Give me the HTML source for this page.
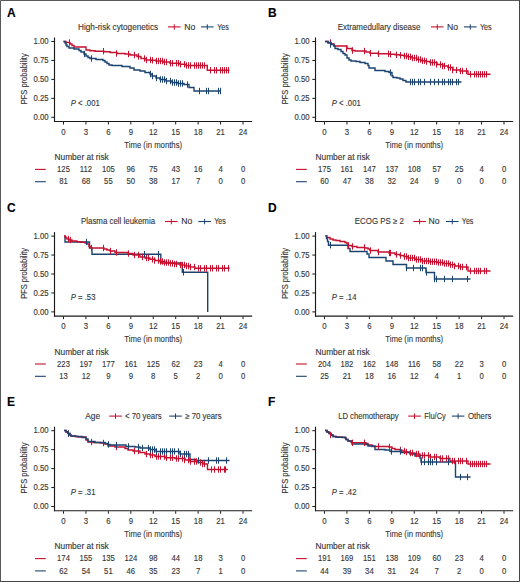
<!DOCTYPE html>
<html><head><meta charset="utf-8"><style>
html,body{margin:0;padding:0;background:#fff;}
svg{display:block;font-family:"Liberation Sans", sans-serif;}
text{stroke:#3a3a3a;stroke-width:0.12px;paint-order:stroke;}
</style></head><body>
<svg width="520" height="582" viewBox="0 0 520 582">
<rect x="0" y="0" width="520" height="582" fill="#fff"/>
<text transform="translate(7.00,17.00)" font-size="12.0" text-anchor="start" fill="#000" font-weight="bold">A</text>
<text transform="translate(78.10,29.60) scale(0.975,1)" font-size="8.4" text-anchor="start" fill="#333333">High-risk cytogenetics</text>
<line x1="168.00" y1="26.90" x2="180.60" y2="26.90" stroke="#c5112f" stroke-width="1.1"/>
<line x1="174.30" y1="24.30" x2="174.30" y2="29.70" stroke="#c5112f" stroke-width="1.0"/>
<text transform="translate(184.20,29.60) scale(1.03,1)" font-size="8.4" text-anchor="start" fill="#333333">No</text>
<line x1="201.00" y1="26.90" x2="213.60" y2="26.90" stroke="#1b4370" stroke-width="1.1"/>
<line x1="207.30" y1="24.30" x2="207.30" y2="29.70" stroke="#1b4370" stroke-width="1.0"/>
<text transform="translate(217.20,29.60) scale(0.85,1)" font-size="8.4" text-anchor="start" fill="#333333">Yes</text>
<text transform="translate(26.70,78.80) rotate(-90) scale(0.835,1)" font-size="9.0" text-anchor="middle" fill="#333333">PFS probability</text>
<text transform="translate(48.60,119.90) scale(0.95,1)" font-size="8.2" text-anchor="end" fill="#333333">0.00</text>
<line x1="51.30" y1="117.30" x2="54.50" y2="117.30" stroke="#1a1a1a" stroke-width="1.0"/>
<text transform="translate(48.60,100.95) scale(0.95,1)" font-size="8.2" text-anchor="end" fill="#333333">0.25</text>
<line x1="51.30" y1="98.35" x2="54.50" y2="98.35" stroke="#1a1a1a" stroke-width="1.0"/>
<text transform="translate(48.60,82.00) scale(0.95,1)" font-size="8.2" text-anchor="end" fill="#333333">0.50</text>
<line x1="51.30" y1="79.40" x2="54.50" y2="79.40" stroke="#1a1a1a" stroke-width="1.0"/>
<text transform="translate(48.60,63.05) scale(0.95,1)" font-size="8.2" text-anchor="end" fill="#333333">0.75</text>
<line x1="51.30" y1="60.45" x2="54.50" y2="60.45" stroke="#1a1a1a" stroke-width="1.0"/>
<text transform="translate(48.60,44.10) scale(0.95,1)" font-size="8.2" text-anchor="end" fill="#333333">1.00</text>
<line x1="51.30" y1="41.50" x2="54.50" y2="41.50" stroke="#1a1a1a" stroke-width="1.0"/>
<line x1="54.50" y1="37.50" x2="54.50" y2="122.00" stroke="#1a1a1a" stroke-width="1.15"/>
<line x1="54.00" y1="121.50" x2="252.20" y2="121.50" stroke="#1a1a1a" stroke-width="1.15"/>
<line x1="63.50" y1="122.00" x2="63.50" y2="124.50" stroke="#1a1a1a" stroke-width="1.0"/>
<text transform="translate(63.50,134.60) scale(0.93,1)" font-size="8.4" text-anchor="middle" fill="#333333">0</text>
<line x1="85.94" y1="122.00" x2="85.94" y2="124.50" stroke="#1a1a1a" stroke-width="1.0"/>
<text transform="translate(85.94,134.60) scale(0.93,1)" font-size="8.4" text-anchor="middle" fill="#333333">3</text>
<line x1="108.38" y1="122.00" x2="108.38" y2="124.50" stroke="#1a1a1a" stroke-width="1.0"/>
<text transform="translate(108.38,134.60) scale(0.93,1)" font-size="8.4" text-anchor="middle" fill="#333333">6</text>
<line x1="130.82" y1="122.00" x2="130.82" y2="124.50" stroke="#1a1a1a" stroke-width="1.0"/>
<text transform="translate(130.82,134.60) scale(0.93,1)" font-size="8.4" text-anchor="middle" fill="#333333">9</text>
<line x1="153.26" y1="122.00" x2="153.26" y2="124.50" stroke="#1a1a1a" stroke-width="1.0"/>
<text transform="translate(153.26,134.60) scale(0.93,1)" font-size="8.4" text-anchor="middle" fill="#333333">12</text>
<line x1="175.70" y1="122.00" x2="175.70" y2="124.50" stroke="#1a1a1a" stroke-width="1.0"/>
<text transform="translate(175.70,134.60) scale(0.93,1)" font-size="8.4" text-anchor="middle" fill="#333333">15</text>
<line x1="198.14" y1="122.00" x2="198.14" y2="124.50" stroke="#1a1a1a" stroke-width="1.0"/>
<text transform="translate(198.14,134.60) scale(0.93,1)" font-size="8.4" text-anchor="middle" fill="#333333">18</text>
<line x1="220.58" y1="122.00" x2="220.58" y2="124.50" stroke="#1a1a1a" stroke-width="1.0"/>
<text transform="translate(220.58,134.60) scale(0.93,1)" font-size="8.4" text-anchor="middle" fill="#333333">21</text>
<line x1="243.02" y1="122.00" x2="243.02" y2="124.50" stroke="#1a1a1a" stroke-width="1.0"/>
<text transform="translate(243.02,134.60) scale(0.93,1)" font-size="8.4" text-anchor="middle" fill="#333333">24</text>
<text transform="translate(153.20,147.80) scale(0.785,1)" font-size="9.9" text-anchor="middle" fill="#333333">Time (in months)</text>
<text transform="translate(70.80,105.70) scale(0.93,1)" font-size="8.3" fill="#333333"><tspan font-style="italic">P</tspan> &lt; .001</text>
<text transform="translate(54.50,160.00) scale(1.02,1)" font-size="8.2" text-anchor="start" fill="#333333">Number at risk</text>
<line x1="35.00" y1="169.40" x2="45.80" y2="169.40" stroke="#c5112f" stroke-width="1.1"/>
<line x1="35.00" y1="181.70" x2="45.80" y2="181.70" stroke="#1b4370" stroke-width="1.1"/>
<text transform="translate(63.50,172.10) scale(0.92,1)" font-size="8.4" text-anchor="middle" fill="#333333">125</text>
<text transform="translate(85.94,172.10) scale(0.92,1)" font-size="8.4" text-anchor="middle" fill="#333333">112</text>
<text transform="translate(108.38,172.10) scale(0.92,1)" font-size="8.4" text-anchor="middle" fill="#333333">105</text>
<text transform="translate(130.82,172.10) scale(0.92,1)" font-size="8.4" text-anchor="middle" fill="#333333">96</text>
<text transform="translate(153.26,172.10) scale(0.92,1)" font-size="8.4" text-anchor="middle" fill="#333333">75</text>
<text transform="translate(175.70,172.10) scale(0.92,1)" font-size="8.4" text-anchor="middle" fill="#333333">43</text>
<text transform="translate(198.14,172.10) scale(0.92,1)" font-size="8.4" text-anchor="middle" fill="#333333">16</text>
<text transform="translate(220.58,172.10) scale(0.92,1)" font-size="8.4" text-anchor="middle" fill="#333333">4</text>
<text transform="translate(243.02,172.10) scale(0.92,1)" font-size="8.4" text-anchor="middle" fill="#333333">0</text>
<text transform="translate(63.50,184.40) scale(0.92,1)" font-size="8.4" text-anchor="middle" fill="#333333">81</text>
<text transform="translate(85.94,184.40) scale(0.92,1)" font-size="8.4" text-anchor="middle" fill="#333333">68</text>
<text transform="translate(108.38,184.40) scale(0.92,1)" font-size="8.4" text-anchor="middle" fill="#333333">55</text>
<text transform="translate(130.82,184.40) scale(0.92,1)" font-size="8.4" text-anchor="middle" fill="#333333">50</text>
<text transform="translate(153.26,184.40) scale(0.92,1)" font-size="8.4" text-anchor="middle" fill="#333333">38</text>
<text transform="translate(175.70,184.40) scale(0.92,1)" font-size="8.4" text-anchor="middle" fill="#333333">17</text>
<text transform="translate(198.14,184.40) scale(0.92,1)" font-size="8.4" text-anchor="middle" fill="#333333">7</text>
<text transform="translate(220.58,184.40) scale(0.92,1)" font-size="8.4" text-anchor="middle" fill="#333333">0</text>
<text transform="translate(243.02,184.40) scale(0.92,1)" font-size="8.4" text-anchor="middle" fill="#333333">0</text>
<path d="M63.50,41.50H66.00V42.50H70.00V44.00H72.00V45.50H74.00V47.00H86.00V50.00H90.00V50.70H95.00V51.20H104.00V51.70H110.00V52.50H117.00V53.50H125.00V54.00H130.00V55.00H137.00V56.50H141.00V58.50H146.00V60.00H151.00V60.30H156.00V61.00H163.00V62.00H170.00V63.20H180.00V64.30H186.00V65.50H207.30V70.30H229.50" fill="none" stroke="#c5112f" stroke-width="1.4" stroke-linejoin="miter"/>
<path d="M63.50,41.50H65.00V43.00H66.00V45.00H67.00V46.50H69.00V48.00H74.00V49.00H79.00V50.50H81.00V52.00H84.00V54.00H86.00V56.00H88.00V57.50H90.00V58.50H96.00V59.50H103.00V60.50H105.00V62.00H107.00V63.50H109.00V65.00H112.00V65.50H122.00V66.50H130.00V68.00H134.00V70.00H140.00V71.00H145.00V72.50H150.00V74.00H152.00V76.00H156.00V78.00H160.00V79.50H166.00V81.00H172.00V82.50H178.00V83.50H184.00V84.50H189.00V87.50H194.00V91.00H221.00" fill="none" stroke="#1b4370" stroke-width="1.4" stroke-linejoin="miter"/>
<path d="M69.50,39.30V45.70M103.50,48.00V54.40M116.50,50.30V56.70M128.50,50.80V57.20M134.50,51.80V58.20M138.50,53.30V59.70M144.50,55.30V61.70M146.50,56.80V63.20M150.50,56.80V63.20M152.50,57.10V63.50M156.50,57.80V64.20M158.50,57.80V64.20M160.50,57.80V64.20M162.50,57.80V64.20M164.50,58.80V65.20M166.50,58.80V65.20M170.50,60.00V66.40M172.50,60.00V66.40M176.50,60.00V66.40M178.50,60.00V66.40M180.50,61.10V67.50M184.50,61.10V67.50M186.50,62.30V68.70M188.50,62.30V68.70M190.50,62.30V68.70M194.50,62.30V68.70M196.50,62.30V68.70M198.50,62.30V68.70M200.50,62.30V68.70M202.50,62.30V68.70M204.50,62.30V68.70M210.50,67.10V73.50M214.50,67.10V73.50M216.50,67.10V73.50M220.50,67.10V73.50M222.50,67.10V73.50M224.50,67.10V73.50M226.50,67.10V73.50M228.50,67.10V73.50" fill="none" stroke="#c5112f" stroke-width="1.0"/>
<path d="M84.50,50.80V57.20M91.50,55.30V61.70M150.50,70.80V77.20M152.50,72.80V79.20M156.50,74.80V81.20M160.50,76.30V82.70M162.50,76.30V82.70M164.50,76.30V82.70M166.50,77.80V84.20M170.50,77.80V84.20M172.50,79.30V85.70M174.50,79.30V85.70M176.50,79.30V85.70M178.50,80.30V86.70M180.50,80.30V86.70M182.50,80.30V86.70M187.50,81.30V87.70M199.50,87.80V94.20M206.50,87.80V94.20M208.50,87.80V94.20M218.50,87.80V94.20M220.50,87.80V94.20" fill="none" stroke="#1b4370" stroke-width="1.0"/>
<text transform="translate(268.00,17.00)" font-size="12.0" text-anchor="start" fill="#000" font-weight="bold">B</text>
<text transform="translate(337.80,29.60) scale(0.947,1)" font-size="8.4" text-anchor="start" fill="#333333">Extramedullary disease</text>
<line x1="431.00" y1="26.90" x2="443.60" y2="26.90" stroke="#c5112f" stroke-width="1.1"/>
<line x1="437.30" y1="24.30" x2="437.30" y2="29.70" stroke="#c5112f" stroke-width="1.0"/>
<text transform="translate(447.00,29.60) scale(1.03,1)" font-size="8.4" text-anchor="start" fill="#333333">No</text>
<line x1="464.00" y1="26.90" x2="476.60" y2="26.90" stroke="#1b4370" stroke-width="1.1"/>
<line x1="470.30" y1="24.30" x2="470.30" y2="29.70" stroke="#1b4370" stroke-width="1.0"/>
<text transform="translate(480.00,29.60) scale(0.85,1)" font-size="8.4" text-anchor="start" fill="#333333">Yes</text>
<text transform="translate(287.70,78.80) rotate(-90) scale(0.835,1)" font-size="9.0" text-anchor="middle" fill="#333333">PFS probability</text>
<text transform="translate(309.60,119.90) scale(0.95,1)" font-size="8.2" text-anchor="end" fill="#333333">0.00</text>
<line x1="312.30" y1="117.30" x2="315.50" y2="117.30" stroke="#1a1a1a" stroke-width="1.0"/>
<text transform="translate(309.60,100.95) scale(0.95,1)" font-size="8.2" text-anchor="end" fill="#333333">0.25</text>
<line x1="312.30" y1="98.35" x2="315.50" y2="98.35" stroke="#1a1a1a" stroke-width="1.0"/>
<text transform="translate(309.60,82.00) scale(0.95,1)" font-size="8.2" text-anchor="end" fill="#333333">0.50</text>
<line x1="312.30" y1="79.40" x2="315.50" y2="79.40" stroke="#1a1a1a" stroke-width="1.0"/>
<text transform="translate(309.60,63.05) scale(0.95,1)" font-size="8.2" text-anchor="end" fill="#333333">0.75</text>
<line x1="312.30" y1="60.45" x2="315.50" y2="60.45" stroke="#1a1a1a" stroke-width="1.0"/>
<text transform="translate(309.60,44.10) scale(0.95,1)" font-size="8.2" text-anchor="end" fill="#333333">1.00</text>
<line x1="312.30" y1="41.50" x2="315.50" y2="41.50" stroke="#1a1a1a" stroke-width="1.0"/>
<line x1="315.50" y1="37.50" x2="315.50" y2="122.00" stroke="#1a1a1a" stroke-width="1.15"/>
<line x1="315.00" y1="121.50" x2="513.20" y2="121.50" stroke="#1a1a1a" stroke-width="1.15"/>
<line x1="324.50" y1="122.00" x2="324.50" y2="124.50" stroke="#1a1a1a" stroke-width="1.0"/>
<text transform="translate(324.50,134.60) scale(0.93,1)" font-size="8.4" text-anchor="middle" fill="#333333">0</text>
<line x1="346.94" y1="122.00" x2="346.94" y2="124.50" stroke="#1a1a1a" stroke-width="1.0"/>
<text transform="translate(346.94,134.60) scale(0.93,1)" font-size="8.4" text-anchor="middle" fill="#333333">3</text>
<line x1="369.38" y1="122.00" x2="369.38" y2="124.50" stroke="#1a1a1a" stroke-width="1.0"/>
<text transform="translate(369.38,134.60) scale(0.93,1)" font-size="8.4" text-anchor="middle" fill="#333333">6</text>
<line x1="391.82" y1="122.00" x2="391.82" y2="124.50" stroke="#1a1a1a" stroke-width="1.0"/>
<text transform="translate(391.82,134.60) scale(0.93,1)" font-size="8.4" text-anchor="middle" fill="#333333">9</text>
<line x1="414.26" y1="122.00" x2="414.26" y2="124.50" stroke="#1a1a1a" stroke-width="1.0"/>
<text transform="translate(414.26,134.60) scale(0.93,1)" font-size="8.4" text-anchor="middle" fill="#333333">12</text>
<line x1="436.70" y1="122.00" x2="436.70" y2="124.50" stroke="#1a1a1a" stroke-width="1.0"/>
<text transform="translate(436.70,134.60) scale(0.93,1)" font-size="8.4" text-anchor="middle" fill="#333333">15</text>
<line x1="459.14" y1="122.00" x2="459.14" y2="124.50" stroke="#1a1a1a" stroke-width="1.0"/>
<text transform="translate(459.14,134.60) scale(0.93,1)" font-size="8.4" text-anchor="middle" fill="#333333">18</text>
<line x1="481.58" y1="122.00" x2="481.58" y2="124.50" stroke="#1a1a1a" stroke-width="1.0"/>
<text transform="translate(481.58,134.60) scale(0.93,1)" font-size="8.4" text-anchor="middle" fill="#333333">21</text>
<line x1="504.02" y1="122.00" x2="504.02" y2="124.50" stroke="#1a1a1a" stroke-width="1.0"/>
<text transform="translate(504.02,134.60) scale(0.93,1)" font-size="8.4" text-anchor="middle" fill="#333333">24</text>
<text transform="translate(414.20,147.80) scale(0.785,1)" font-size="9.9" text-anchor="middle" fill="#333333">Time (in months)</text>
<text transform="translate(331.80,105.70) scale(0.93,1)" font-size="8.3" fill="#333333"><tspan font-style="italic">P</tspan> &lt; .001</text>
<text transform="translate(315.50,160.00) scale(1.02,1)" font-size="8.2" text-anchor="start" fill="#333333">Number at risk</text>
<line x1="296.00" y1="169.40" x2="306.80" y2="169.40" stroke="#c5112f" stroke-width="1.1"/>
<line x1="296.00" y1="181.70" x2="306.80" y2="181.70" stroke="#1b4370" stroke-width="1.1"/>
<text transform="translate(324.50,172.10) scale(0.92,1)" font-size="8.4" text-anchor="middle" fill="#333333">175</text>
<text transform="translate(346.94,172.10) scale(0.92,1)" font-size="8.4" text-anchor="middle" fill="#333333">161</text>
<text transform="translate(369.38,172.10) scale(0.92,1)" font-size="8.4" text-anchor="middle" fill="#333333">147</text>
<text transform="translate(391.82,172.10) scale(0.92,1)" font-size="8.4" text-anchor="middle" fill="#333333">137</text>
<text transform="translate(414.26,172.10) scale(0.92,1)" font-size="8.4" text-anchor="middle" fill="#333333">108</text>
<text transform="translate(436.70,172.10) scale(0.92,1)" font-size="8.4" text-anchor="middle" fill="#333333">57</text>
<text transform="translate(459.14,172.10) scale(0.92,1)" font-size="8.4" text-anchor="middle" fill="#333333">25</text>
<text transform="translate(481.58,172.10) scale(0.92,1)" font-size="8.4" text-anchor="middle" fill="#333333">4</text>
<text transform="translate(504.02,172.10) scale(0.92,1)" font-size="8.4" text-anchor="middle" fill="#333333">0</text>
<text transform="translate(324.50,184.40) scale(0.92,1)" font-size="8.4" text-anchor="middle" fill="#333333">60</text>
<text transform="translate(346.94,184.40) scale(0.92,1)" font-size="8.4" text-anchor="middle" fill="#333333">47</text>
<text transform="translate(369.38,184.40) scale(0.92,1)" font-size="8.4" text-anchor="middle" fill="#333333">38</text>
<text transform="translate(391.82,184.40) scale(0.92,1)" font-size="8.4" text-anchor="middle" fill="#333333">32</text>
<text transform="translate(414.26,184.40) scale(0.92,1)" font-size="8.4" text-anchor="middle" fill="#333333">24</text>
<text transform="translate(436.70,184.40) scale(0.92,1)" font-size="8.4" text-anchor="middle" fill="#333333">9</text>
<text transform="translate(459.14,184.40) scale(0.92,1)" font-size="8.4" text-anchor="middle" fill="#333333">0</text>
<text transform="translate(481.58,184.40) scale(0.92,1)" font-size="8.4" text-anchor="middle" fill="#333333">0</text>
<text transform="translate(504.02,184.40) scale(0.92,1)" font-size="8.4" text-anchor="middle" fill="#333333">0</text>
<path d="M325.00,41.50H328.00V42.50H331.00V44.00H334.00V46.00H347.00V48.50H352.00V50.50H355.00V51.00H366.00V52.00H370.00V53.20H378.00V53.80H390.00V54.30H395.00V54.80H400.00V55.30H404.00V56.00H408.00V56.80H412.00V58.00H417.00V59.50H421.00V60.70H426.00V61.50H430.00V62.50H437.00V64.50H443.00V66.00H448.00V67.50H453.00V70.00H460.00V71.00H468.00V74.30H490.50" fill="none" stroke="#c5112f" stroke-width="1.4" stroke-linejoin="miter"/>
<path d="M325.00,41.50H328.00V43.00H331.00V44.50H334.00V46.00H335.00V48.50H338.00V49.50H341.00V51.50H343.00V53.50H345.00V55.00H347.00V58.00H349.00V60.00H351.00V61.00H356.00V61.50H360.00V62.50H365.00V63.50H368.00V65.50H369.00V68.00H375.00V70.50H385.00V71.50H389.00V72.50H392.00V76.00H393.00V77.50H397.00V78.00H400.00V79.00H403.00V80.50H406.00V82.00H461.50" fill="none" stroke="#1b4370" stroke-width="1.4" stroke-linejoin="miter"/>
<path d="M330.50,39.30V45.70M346.50,45.30V51.70M352.50,47.30V53.70M364.50,47.80V54.20M370.50,50.00V56.40M378.50,50.60V57.00M388.50,50.60V57.00M390.50,51.10V57.50M396.50,51.60V58.00M400.50,52.10V58.50M404.50,52.80V59.20M406.50,52.80V59.20M408.50,53.60V60.00M410.50,53.60V60.00M412.50,54.80V61.20M414.50,54.80V61.20M416.50,54.80V61.20M418.50,56.30V62.70M420.50,56.30V62.70M422.50,57.50V63.90M424.50,57.50V63.90M426.50,58.30V64.70M430.50,59.30V65.70M432.50,59.30V65.70M434.50,59.30V65.70M436.50,61.30V67.70M440.50,61.30V67.70M442.50,62.80V69.20M444.50,62.80V69.20M448.50,64.30V70.70M450.50,64.30V70.70M452.50,66.80V73.20M456.50,66.80V73.20M460.50,67.80V74.20M462.50,67.80V74.20M466.50,67.80V74.20M470.50,71.10V77.50M474.50,71.10V77.50M476.50,71.10V77.50M478.50,71.10V77.50M480.50,71.10V77.50M482.50,71.10V77.50M484.50,71.10V77.50M486.50,71.10V77.50" fill="none" stroke="#c5112f" stroke-width="1.0"/>
<path d="M330.50,41.30V47.70M390.50,69.30V75.70M410.50,78.80V85.20M412.50,78.80V85.20M414.50,78.80V85.20M418.50,78.80V85.20M420.50,78.80V85.20M424.50,78.80V85.20M430.50,78.80V85.20M434.50,78.80V85.20M438.50,78.80V85.20M442.50,78.80V85.20M444.50,78.80V85.20M448.50,78.80V85.20M450.50,78.80V85.20M452.50,78.80V85.20M456.50,78.80V85.20M458.50,78.80V85.20" fill="none" stroke="#1b4370" stroke-width="1.0"/>
<text transform="translate(7.00,211.60)" font-size="12.0" text-anchor="start" fill="#000" font-weight="bold">C</text>
<text transform="translate(81.00,224.20) scale(0.94,1)" font-size="8.4" text-anchor="start" fill="#333333">Plasma cell leukemia</text>
<line x1="165.00" y1="221.50" x2="177.60" y2="221.50" stroke="#c5112f" stroke-width="1.1"/>
<line x1="171.30" y1="218.90" x2="171.30" y2="224.30" stroke="#c5112f" stroke-width="1.0"/>
<text transform="translate(181.20,224.20) scale(1.03,1)" font-size="8.4" text-anchor="start" fill="#333333">No</text>
<line x1="198.30" y1="221.50" x2="210.90" y2="221.50" stroke="#1b4370" stroke-width="1.1"/>
<line x1="204.60" y1="218.90" x2="204.60" y2="224.30" stroke="#1b4370" stroke-width="1.0"/>
<text transform="translate(214.20,224.20) scale(0.85,1)" font-size="8.4" text-anchor="start" fill="#333333">Yes</text>
<text transform="translate(26.70,273.40) rotate(-90) scale(0.835,1)" font-size="9.0" text-anchor="middle" fill="#333333">PFS probability</text>
<text transform="translate(48.60,314.50) scale(0.95,1)" font-size="8.2" text-anchor="end" fill="#333333">0.00</text>
<line x1="51.30" y1="311.90" x2="54.50" y2="311.90" stroke="#1a1a1a" stroke-width="1.0"/>
<text transform="translate(48.60,295.55) scale(0.95,1)" font-size="8.2" text-anchor="end" fill="#333333">0.25</text>
<line x1="51.30" y1="292.95" x2="54.50" y2="292.95" stroke="#1a1a1a" stroke-width="1.0"/>
<text transform="translate(48.60,276.60) scale(0.95,1)" font-size="8.2" text-anchor="end" fill="#333333">0.50</text>
<line x1="51.30" y1="274.00" x2="54.50" y2="274.00" stroke="#1a1a1a" stroke-width="1.0"/>
<text transform="translate(48.60,257.65) scale(0.95,1)" font-size="8.2" text-anchor="end" fill="#333333">0.75</text>
<line x1="51.30" y1="255.05" x2="54.50" y2="255.05" stroke="#1a1a1a" stroke-width="1.0"/>
<text transform="translate(48.60,238.70) scale(0.95,1)" font-size="8.2" text-anchor="end" fill="#333333">1.00</text>
<line x1="51.30" y1="236.10" x2="54.50" y2="236.10" stroke="#1a1a1a" stroke-width="1.0"/>
<line x1="54.50" y1="232.10" x2="54.50" y2="316.60" stroke="#1a1a1a" stroke-width="1.15"/>
<line x1="54.00" y1="316.10" x2="252.20" y2="316.10" stroke="#1a1a1a" stroke-width="1.15"/>
<line x1="63.50" y1="316.60" x2="63.50" y2="319.10" stroke="#1a1a1a" stroke-width="1.0"/>
<text transform="translate(63.50,329.20) scale(0.93,1)" font-size="8.4" text-anchor="middle" fill="#333333">0</text>
<line x1="85.94" y1="316.60" x2="85.94" y2="319.10" stroke="#1a1a1a" stroke-width="1.0"/>
<text transform="translate(85.94,329.20) scale(0.93,1)" font-size="8.4" text-anchor="middle" fill="#333333">3</text>
<line x1="108.38" y1="316.60" x2="108.38" y2="319.10" stroke="#1a1a1a" stroke-width="1.0"/>
<text transform="translate(108.38,329.20) scale(0.93,1)" font-size="8.4" text-anchor="middle" fill="#333333">6</text>
<line x1="130.82" y1="316.60" x2="130.82" y2="319.10" stroke="#1a1a1a" stroke-width="1.0"/>
<text transform="translate(130.82,329.20) scale(0.93,1)" font-size="8.4" text-anchor="middle" fill="#333333">9</text>
<line x1="153.26" y1="316.60" x2="153.26" y2="319.10" stroke="#1a1a1a" stroke-width="1.0"/>
<text transform="translate(153.26,329.20) scale(0.93,1)" font-size="8.4" text-anchor="middle" fill="#333333">12</text>
<line x1="175.70" y1="316.60" x2="175.70" y2="319.10" stroke="#1a1a1a" stroke-width="1.0"/>
<text transform="translate(175.70,329.20) scale(0.93,1)" font-size="8.4" text-anchor="middle" fill="#333333">15</text>
<line x1="198.14" y1="316.60" x2="198.14" y2="319.10" stroke="#1a1a1a" stroke-width="1.0"/>
<text transform="translate(198.14,329.20) scale(0.93,1)" font-size="8.4" text-anchor="middle" fill="#333333">18</text>
<line x1="220.58" y1="316.60" x2="220.58" y2="319.10" stroke="#1a1a1a" stroke-width="1.0"/>
<text transform="translate(220.58,329.20) scale(0.93,1)" font-size="8.4" text-anchor="middle" fill="#333333">21</text>
<line x1="243.02" y1="316.60" x2="243.02" y2="319.10" stroke="#1a1a1a" stroke-width="1.0"/>
<text transform="translate(243.02,329.20) scale(0.93,1)" font-size="8.4" text-anchor="middle" fill="#333333">24</text>
<text transform="translate(153.20,342.40) scale(0.785,1)" font-size="9.9" text-anchor="middle" fill="#333333">Time (in months)</text>
<text transform="translate(70.80,300.30) scale(0.93,1)" font-size="8.3" fill="#333333"><tspan font-style="italic">P</tspan> = .53</text>
<text transform="translate(54.50,354.60) scale(1.02,1)" font-size="8.2" text-anchor="start" fill="#333333">Number at risk</text>
<line x1="35.00" y1="364.00" x2="45.80" y2="364.00" stroke="#c5112f" stroke-width="1.1"/>
<line x1="35.00" y1="376.30" x2="45.80" y2="376.30" stroke="#1b4370" stroke-width="1.1"/>
<text transform="translate(63.50,366.70) scale(0.92,1)" font-size="8.4" text-anchor="middle" fill="#333333">223</text>
<text transform="translate(85.94,366.70) scale(0.92,1)" font-size="8.4" text-anchor="middle" fill="#333333">197</text>
<text transform="translate(108.38,366.70) scale(0.92,1)" font-size="8.4" text-anchor="middle" fill="#333333">177</text>
<text transform="translate(130.82,366.70) scale(0.92,1)" font-size="8.4" text-anchor="middle" fill="#333333">161</text>
<text transform="translate(153.26,366.70) scale(0.92,1)" font-size="8.4" text-anchor="middle" fill="#333333">125</text>
<text transform="translate(175.70,366.70) scale(0.92,1)" font-size="8.4" text-anchor="middle" fill="#333333">62</text>
<text transform="translate(198.14,366.70) scale(0.92,1)" font-size="8.4" text-anchor="middle" fill="#333333">23</text>
<text transform="translate(220.58,366.70) scale(0.92,1)" font-size="8.4" text-anchor="middle" fill="#333333">4</text>
<text transform="translate(243.02,366.70) scale(0.92,1)" font-size="8.4" text-anchor="middle" fill="#333333">0</text>
<text transform="translate(63.50,379.00) scale(0.92,1)" font-size="8.4" text-anchor="middle" fill="#333333">13</text>
<text transform="translate(85.94,379.00) scale(0.92,1)" font-size="8.4" text-anchor="middle" fill="#333333">12</text>
<text transform="translate(108.38,379.00) scale(0.92,1)" font-size="8.4" text-anchor="middle" fill="#333333">9</text>
<text transform="translate(130.82,379.00) scale(0.92,1)" font-size="8.4" text-anchor="middle" fill="#333333">9</text>
<text transform="translate(153.26,379.00) scale(0.92,1)" font-size="8.4" text-anchor="middle" fill="#333333">8</text>
<text transform="translate(175.70,379.00) scale(0.92,1)" font-size="8.4" text-anchor="middle" fill="#333333">5</text>
<text transform="translate(198.14,379.00) scale(0.92,1)" font-size="8.4" text-anchor="middle" fill="#333333">2</text>
<text transform="translate(220.58,379.00) scale(0.92,1)" font-size="8.4" text-anchor="middle" fill="#333333">0</text>
<text transform="translate(243.02,379.00) scale(0.92,1)" font-size="8.4" text-anchor="middle" fill="#333333">0</text>
<path d="M64.50,236.00H65.00V242.00H89.50V248.00H92.00V254.20H160.80V263.00H182.30V272.30H207.70V312.00H207.70" fill="none" stroke="#1b4370" stroke-width="1.4" stroke-linejoin="miter"/>
<path d="M64.00,236.00H65.00V237.00H66.00V238.00H67.00V239.00H69.00V240.00H72.00V241.00H77.00V241.70H81.00V242.30H85.00V243.00H87.00V244.00H89.00V246.50H91.00V248.00H104.00V249.00H107.00V250.00H110.00V251.00H115.00V252.50H128.00V253.50H133.00V255.00H140.00V257.00H145.00V258.00H150.00V259.30H155.00V260.50H160.00V261.50H165.00V262.50H170.00V263.30H175.00V264.00H180.00V265.00H185.00V266.00H190.00V267.00H195.00V268.30H229.70" fill="none" stroke="#c5112f" stroke-width="1.4" stroke-linejoin="miter"/>
<path d="M68.50,235.80V242.20M70.50,236.80V243.20M91.50,244.80V251.20M103.50,244.80V251.20M110.50,247.80V254.20M116.50,249.30V255.70M128.50,250.30V256.70M134.50,251.80V258.20M138.50,251.80V258.20M142.50,253.80V260.20M146.50,254.80V261.20M148.50,254.80V261.20M152.50,256.10V262.50M154.50,257.30V263.70M158.50,257.30V263.70M160.50,258.30V264.70M162.50,258.30V264.70M164.50,259.30V265.70M166.50,259.30V265.70M168.50,259.30V265.70M170.50,260.10V266.50M172.50,260.10V266.50M174.50,260.80V267.20M176.50,260.80V267.20M180.50,261.80V268.20M182.50,261.80V268.20M184.50,261.80V268.20M186.50,262.80V269.20M188.50,262.80V269.20M190.50,263.80V270.20M194.50,263.80V270.20M198.50,265.10V271.50M200.50,265.10V271.50M204.50,265.10V271.50M206.50,265.10V271.50M210.50,265.10V271.50M212.50,265.10V271.50M216.50,265.10V271.50M218.50,265.10V271.50M222.50,265.10V271.50M224.50,265.10V271.50M228.50,265.10V271.50" fill="none" stroke="#c5112f" stroke-width="1.0"/>
<path d="M86.50,238.80V245.20M144.50,251.00V257.40M158.50,251.00V257.40M183.50,269.10V275.50" fill="none" stroke="#1b4370" stroke-width="1.0"/>
<text transform="translate(268.00,211.60)" font-size="12.0" text-anchor="start" fill="#000" font-weight="bold">D</text>
<text transform="translate(354.80,224.20) scale(0.94,1)" font-size="8.4" text-anchor="start" fill="#333333">ECOG PS ≥ 2</text>
<line x1="413.30" y1="221.50" x2="425.90" y2="221.50" stroke="#c5112f" stroke-width="1.1"/>
<line x1="419.60" y1="218.90" x2="419.60" y2="224.30" stroke="#c5112f" stroke-width="1.0"/>
<text transform="translate(428.50,224.20) scale(1.03,1)" font-size="8.4" text-anchor="start" fill="#333333">No</text>
<line x1="446.00" y1="221.50" x2="458.60" y2="221.50" stroke="#1b4370" stroke-width="1.1"/>
<line x1="452.30" y1="218.90" x2="452.30" y2="224.30" stroke="#1b4370" stroke-width="1.0"/>
<text transform="translate(461.80,224.20) scale(0.85,1)" font-size="8.4" text-anchor="start" fill="#333333">Yes</text>
<text transform="translate(287.70,273.40) rotate(-90) scale(0.835,1)" font-size="9.0" text-anchor="middle" fill="#333333">PFS probability</text>
<text transform="translate(309.60,314.50) scale(0.95,1)" font-size="8.2" text-anchor="end" fill="#333333">0.00</text>
<line x1="312.30" y1="311.90" x2="315.50" y2="311.90" stroke="#1a1a1a" stroke-width="1.0"/>
<text transform="translate(309.60,295.55) scale(0.95,1)" font-size="8.2" text-anchor="end" fill="#333333">0.25</text>
<line x1="312.30" y1="292.95" x2="315.50" y2="292.95" stroke="#1a1a1a" stroke-width="1.0"/>
<text transform="translate(309.60,276.60) scale(0.95,1)" font-size="8.2" text-anchor="end" fill="#333333">0.50</text>
<line x1="312.30" y1="274.00" x2="315.50" y2="274.00" stroke="#1a1a1a" stroke-width="1.0"/>
<text transform="translate(309.60,257.65) scale(0.95,1)" font-size="8.2" text-anchor="end" fill="#333333">0.75</text>
<line x1="312.30" y1="255.05" x2="315.50" y2="255.05" stroke="#1a1a1a" stroke-width="1.0"/>
<text transform="translate(309.60,238.70) scale(0.95,1)" font-size="8.2" text-anchor="end" fill="#333333">1.00</text>
<line x1="312.30" y1="236.10" x2="315.50" y2="236.10" stroke="#1a1a1a" stroke-width="1.0"/>
<line x1="315.50" y1="232.10" x2="315.50" y2="316.60" stroke="#1a1a1a" stroke-width="1.15"/>
<line x1="315.00" y1="316.10" x2="513.20" y2="316.10" stroke="#1a1a1a" stroke-width="1.15"/>
<line x1="324.50" y1="316.60" x2="324.50" y2="319.10" stroke="#1a1a1a" stroke-width="1.0"/>
<text transform="translate(324.50,329.20) scale(0.93,1)" font-size="8.4" text-anchor="middle" fill="#333333">0</text>
<line x1="346.94" y1="316.60" x2="346.94" y2="319.10" stroke="#1a1a1a" stroke-width="1.0"/>
<text transform="translate(346.94,329.20) scale(0.93,1)" font-size="8.4" text-anchor="middle" fill="#333333">3</text>
<line x1="369.38" y1="316.60" x2="369.38" y2="319.10" stroke="#1a1a1a" stroke-width="1.0"/>
<text transform="translate(369.38,329.20) scale(0.93,1)" font-size="8.4" text-anchor="middle" fill="#333333">6</text>
<line x1="391.82" y1="316.60" x2="391.82" y2="319.10" stroke="#1a1a1a" stroke-width="1.0"/>
<text transform="translate(391.82,329.20) scale(0.93,1)" font-size="8.4" text-anchor="middle" fill="#333333">9</text>
<line x1="414.26" y1="316.60" x2="414.26" y2="319.10" stroke="#1a1a1a" stroke-width="1.0"/>
<text transform="translate(414.26,329.20) scale(0.93,1)" font-size="8.4" text-anchor="middle" fill="#333333">12</text>
<line x1="436.70" y1="316.60" x2="436.70" y2="319.10" stroke="#1a1a1a" stroke-width="1.0"/>
<text transform="translate(436.70,329.20) scale(0.93,1)" font-size="8.4" text-anchor="middle" fill="#333333">15</text>
<line x1="459.14" y1="316.60" x2="459.14" y2="319.10" stroke="#1a1a1a" stroke-width="1.0"/>
<text transform="translate(459.14,329.20) scale(0.93,1)" font-size="8.4" text-anchor="middle" fill="#333333">18</text>
<line x1="481.58" y1="316.60" x2="481.58" y2="319.10" stroke="#1a1a1a" stroke-width="1.0"/>
<text transform="translate(481.58,329.20) scale(0.93,1)" font-size="8.4" text-anchor="middle" fill="#333333">21</text>
<line x1="504.02" y1="316.60" x2="504.02" y2="319.10" stroke="#1a1a1a" stroke-width="1.0"/>
<text transform="translate(504.02,329.20) scale(0.93,1)" font-size="8.4" text-anchor="middle" fill="#333333">24</text>
<text transform="translate(414.20,342.40) scale(0.785,1)" font-size="9.9" text-anchor="middle" fill="#333333">Time (in months)</text>
<text transform="translate(331.80,300.30) scale(0.93,1)" font-size="8.3" fill="#333333"><tspan font-style="italic">P</tspan> = .14</text>
<text transform="translate(315.50,354.60) scale(1.02,1)" font-size="8.2" text-anchor="start" fill="#333333">Number at risk</text>
<line x1="296.00" y1="364.00" x2="306.80" y2="364.00" stroke="#c5112f" stroke-width="1.1"/>
<line x1="296.00" y1="376.30" x2="306.80" y2="376.30" stroke="#1b4370" stroke-width="1.1"/>
<text transform="translate(324.50,366.70) scale(0.92,1)" font-size="8.4" text-anchor="middle" fill="#333333">204</text>
<text transform="translate(346.94,366.70) scale(0.92,1)" font-size="8.4" text-anchor="middle" fill="#333333">182</text>
<text transform="translate(369.38,366.70) scale(0.92,1)" font-size="8.4" text-anchor="middle" fill="#333333">162</text>
<text transform="translate(391.82,366.70) scale(0.92,1)" font-size="8.4" text-anchor="middle" fill="#333333">148</text>
<text transform="translate(414.26,366.70) scale(0.92,1)" font-size="8.4" text-anchor="middle" fill="#333333">116</text>
<text transform="translate(436.70,366.70) scale(0.92,1)" font-size="8.4" text-anchor="middle" fill="#333333">58</text>
<text transform="translate(459.14,366.70) scale(0.92,1)" font-size="8.4" text-anchor="middle" fill="#333333">22</text>
<text transform="translate(481.58,366.70) scale(0.92,1)" font-size="8.4" text-anchor="middle" fill="#333333">3</text>
<text transform="translate(504.02,366.70) scale(0.92,1)" font-size="8.4" text-anchor="middle" fill="#333333">0</text>
<text transform="translate(324.50,379.00) scale(0.92,1)" font-size="8.4" text-anchor="middle" fill="#333333">25</text>
<text transform="translate(346.94,379.00) scale(0.92,1)" font-size="8.4" text-anchor="middle" fill="#333333">21</text>
<text transform="translate(369.38,379.00) scale(0.92,1)" font-size="8.4" text-anchor="middle" fill="#333333">18</text>
<text transform="translate(391.82,379.00) scale(0.92,1)" font-size="8.4" text-anchor="middle" fill="#333333">16</text>
<text transform="translate(414.26,379.00) scale(0.92,1)" font-size="8.4" text-anchor="middle" fill="#333333">12</text>
<text transform="translate(436.70,379.00) scale(0.92,1)" font-size="8.4" text-anchor="middle" fill="#333333">4</text>
<text transform="translate(459.14,379.00) scale(0.92,1)" font-size="8.4" text-anchor="middle" fill="#333333">1</text>
<text transform="translate(481.58,379.00) scale(0.92,1)" font-size="8.4" text-anchor="middle" fill="#333333">0</text>
<text transform="translate(504.02,379.00) scale(0.92,1)" font-size="8.4" text-anchor="middle" fill="#333333">0</text>
<path d="M325.50,236.00H327.00V237.50H330.00V239.00H333.00V240.00H336.00V240.50H340.00V241.50H345.00V242.50H347.00V243.50H348.00V245.50H352.00V246.50H357.00V247.50H365.00V248.00H368.00V249.00H370.00V250.50H378.00V252.00H389.00V253.00H395.00V254.50H400.00V255.50H404.00V256.50H408.00V258.00H415.00V259.50H422.00V261.00H430.00V261.70H437.00V262.50H443.00V263.50H450.00V264.70H455.00V266.00H460.00V267.00H468.00V271.00H490.50" fill="none" stroke="#c5112f" stroke-width="1.4" stroke-linejoin="miter"/>
<path d="M325.50,236.00H326.50V238.50H327.50V241.50H328.50V245.20H348.00V248.50H350.00V251.50H367.00V254.00H369.00V257.50H386.00V261.00H393.00V264.50H406.50V268.00H426.00V272.50H434.50V279.00H470.50" fill="none" stroke="#1b4370" stroke-width="1.4" stroke-linejoin="miter"/>
<path d="M348.50,242.30V248.70M352.50,243.30V249.70M364.50,244.30V250.70M370.50,247.30V253.70M378.50,248.80V255.20M389.50,249.80V256.20M390.50,249.80V256.20M396.50,251.30V257.70M400.50,252.30V258.70M404.50,253.30V259.70M406.50,253.30V259.70M408.50,254.80V261.20M410.50,254.80V261.20M412.50,254.80V261.20M414.50,254.80V261.20M416.50,256.30V262.70M418.50,256.30V262.70M420.50,256.30V262.70M422.50,257.80V264.20M424.50,257.80V264.20M426.50,257.80V264.20M428.50,257.80V264.20M430.50,258.50V264.90M432.50,258.50V264.90M434.50,258.50V264.90M436.50,258.50V264.90M438.50,259.30V265.70M440.50,259.30V265.70M442.50,259.30V265.70M444.50,260.30V266.70M446.50,260.30V266.70M448.50,260.30V266.70M450.50,261.50V267.90M452.50,261.50V267.90M454.50,262.80V269.20M458.50,262.80V269.20M460.50,263.80V270.20M462.50,263.80V270.20M466.50,263.80V270.20M470.50,267.80V274.20M474.50,267.80V274.20M476.50,267.80V274.20M478.50,267.80V274.20M480.50,267.80V274.20M484.50,267.80V274.20M486.50,267.80V274.20" fill="none" stroke="#c5112f" stroke-width="1.0"/>
<path d="M330.50,242.00V248.40M406.50,264.80V271.20M413.50,264.80V271.20M420.50,264.80V271.20M422.50,264.80V271.20M426.50,269.30V275.70M434.50,275.80V282.20M436.50,275.80V282.20M444.50,275.80V282.20M452.50,275.80V282.20M467.50,275.80V282.20" fill="none" stroke="#1b4370" stroke-width="1.0"/>
<text transform="translate(7.00,406.20)" font-size="12.0" text-anchor="start" fill="#000" font-weight="bold">E</text>
<text transform="translate(85.20,418.80)" font-size="8.4" text-anchor="start" fill="#333333">Age</text>
<line x1="109.20" y1="416.10" x2="121.80" y2="416.10" stroke="#c5112f" stroke-width="1.1"/>
<line x1="115.50" y1="413.50" x2="115.50" y2="418.90" stroke="#c5112f" stroke-width="1.0"/>
<text transform="translate(125.00,418.80) scale(0.93,1)" font-size="8.4" text-anchor="start" fill="#333333">&lt; 70 years</text>
<line x1="169.20" y1="416.10" x2="181.80" y2="416.10" stroke="#1b4370" stroke-width="1.1"/>
<line x1="175.50" y1="413.50" x2="175.50" y2="418.90" stroke="#1b4370" stroke-width="1.0"/>
<text transform="translate(185.20,418.80) scale(0.93,1)" font-size="8.4" text-anchor="start" fill="#333333">≥ 70 years</text>
<text transform="translate(26.70,468.00) rotate(-90) scale(0.835,1)" font-size="9.0" text-anchor="middle" fill="#333333">PFS probability</text>
<text transform="translate(48.60,509.10) scale(0.95,1)" font-size="8.2" text-anchor="end" fill="#333333">0.00</text>
<line x1="51.30" y1="506.50" x2="54.50" y2="506.50" stroke="#1a1a1a" stroke-width="1.0"/>
<text transform="translate(48.60,490.15) scale(0.95,1)" font-size="8.2" text-anchor="end" fill="#333333">0.25</text>
<line x1="51.30" y1="487.55" x2="54.50" y2="487.55" stroke="#1a1a1a" stroke-width="1.0"/>
<text transform="translate(48.60,471.20) scale(0.95,1)" font-size="8.2" text-anchor="end" fill="#333333">0.50</text>
<line x1="51.30" y1="468.60" x2="54.50" y2="468.60" stroke="#1a1a1a" stroke-width="1.0"/>
<text transform="translate(48.60,452.25) scale(0.95,1)" font-size="8.2" text-anchor="end" fill="#333333">0.75</text>
<line x1="51.30" y1="449.65" x2="54.50" y2="449.65" stroke="#1a1a1a" stroke-width="1.0"/>
<text transform="translate(48.60,433.30) scale(0.95,1)" font-size="8.2" text-anchor="end" fill="#333333">1.00</text>
<line x1="51.30" y1="430.70" x2="54.50" y2="430.70" stroke="#1a1a1a" stroke-width="1.0"/>
<line x1="54.50" y1="426.70" x2="54.50" y2="511.20" stroke="#1a1a1a" stroke-width="1.15"/>
<line x1="54.00" y1="510.70" x2="252.20" y2="510.70" stroke="#1a1a1a" stroke-width="1.15"/>
<line x1="63.50" y1="511.20" x2="63.50" y2="513.70" stroke="#1a1a1a" stroke-width="1.0"/>
<text transform="translate(63.50,523.80) scale(0.93,1)" font-size="8.4" text-anchor="middle" fill="#333333">0</text>
<line x1="85.94" y1="511.20" x2="85.94" y2="513.70" stroke="#1a1a1a" stroke-width="1.0"/>
<text transform="translate(85.94,523.80) scale(0.93,1)" font-size="8.4" text-anchor="middle" fill="#333333">3</text>
<line x1="108.38" y1="511.20" x2="108.38" y2="513.70" stroke="#1a1a1a" stroke-width="1.0"/>
<text transform="translate(108.38,523.80) scale(0.93,1)" font-size="8.4" text-anchor="middle" fill="#333333">6</text>
<line x1="130.82" y1="511.20" x2="130.82" y2="513.70" stroke="#1a1a1a" stroke-width="1.0"/>
<text transform="translate(130.82,523.80) scale(0.93,1)" font-size="8.4" text-anchor="middle" fill="#333333">9</text>
<line x1="153.26" y1="511.20" x2="153.26" y2="513.70" stroke="#1a1a1a" stroke-width="1.0"/>
<text transform="translate(153.26,523.80) scale(0.93,1)" font-size="8.4" text-anchor="middle" fill="#333333">12</text>
<line x1="175.70" y1="511.20" x2="175.70" y2="513.70" stroke="#1a1a1a" stroke-width="1.0"/>
<text transform="translate(175.70,523.80) scale(0.93,1)" font-size="8.4" text-anchor="middle" fill="#333333">15</text>
<line x1="198.14" y1="511.20" x2="198.14" y2="513.70" stroke="#1a1a1a" stroke-width="1.0"/>
<text transform="translate(198.14,523.80) scale(0.93,1)" font-size="8.4" text-anchor="middle" fill="#333333">18</text>
<line x1="220.58" y1="511.20" x2="220.58" y2="513.70" stroke="#1a1a1a" stroke-width="1.0"/>
<text transform="translate(220.58,523.80) scale(0.93,1)" font-size="8.4" text-anchor="middle" fill="#333333">21</text>
<line x1="243.02" y1="511.20" x2="243.02" y2="513.70" stroke="#1a1a1a" stroke-width="1.0"/>
<text transform="translate(243.02,523.80) scale(0.93,1)" font-size="8.4" text-anchor="middle" fill="#333333">24</text>
<text transform="translate(153.20,537.00) scale(0.785,1)" font-size="9.9" text-anchor="middle" fill="#333333">Time (in months)</text>
<text transform="translate(70.80,494.90) scale(0.93,1)" font-size="8.3" fill="#333333"><tspan font-style="italic">P</tspan> = .31</text>
<text transform="translate(54.50,549.20) scale(1.02,1)" font-size="8.2" text-anchor="start" fill="#333333">Number at risk</text>
<line x1="35.00" y1="558.60" x2="45.80" y2="558.60" stroke="#c5112f" stroke-width="1.1"/>
<line x1="35.00" y1="570.90" x2="45.80" y2="570.90" stroke="#1b4370" stroke-width="1.1"/>
<text transform="translate(63.50,561.30) scale(0.92,1)" font-size="8.4" text-anchor="middle" fill="#333333">174</text>
<text transform="translate(85.94,561.30) scale(0.92,1)" font-size="8.4" text-anchor="middle" fill="#333333">155</text>
<text transform="translate(108.38,561.30) scale(0.92,1)" font-size="8.4" text-anchor="middle" fill="#333333">135</text>
<text transform="translate(130.82,561.30) scale(0.92,1)" font-size="8.4" text-anchor="middle" fill="#333333">124</text>
<text transform="translate(153.26,561.30) scale(0.92,1)" font-size="8.4" text-anchor="middle" fill="#333333">98</text>
<text transform="translate(175.70,561.30) scale(0.92,1)" font-size="8.4" text-anchor="middle" fill="#333333">44</text>
<text transform="translate(198.14,561.30) scale(0.92,1)" font-size="8.4" text-anchor="middle" fill="#333333">18</text>
<text transform="translate(220.58,561.30) scale(0.92,1)" font-size="8.4" text-anchor="middle" fill="#333333">3</text>
<text transform="translate(243.02,561.30) scale(0.92,1)" font-size="8.4" text-anchor="middle" fill="#333333">0</text>
<text transform="translate(63.50,573.60) scale(0.92,1)" font-size="8.4" text-anchor="middle" fill="#333333">62</text>
<text transform="translate(85.94,573.60) scale(0.92,1)" font-size="8.4" text-anchor="middle" fill="#333333">54</text>
<text transform="translate(108.38,573.60) scale(0.92,1)" font-size="8.4" text-anchor="middle" fill="#333333">51</text>
<text transform="translate(130.82,573.60) scale(0.92,1)" font-size="8.4" text-anchor="middle" fill="#333333">46</text>
<text transform="translate(153.26,573.60) scale(0.92,1)" font-size="8.4" text-anchor="middle" fill="#333333">35</text>
<text transform="translate(175.70,573.60) scale(0.92,1)" font-size="8.4" text-anchor="middle" fill="#333333">23</text>
<text transform="translate(198.14,573.60) scale(0.92,1)" font-size="8.4" text-anchor="middle" fill="#333333">7</text>
<text transform="translate(220.58,573.60) scale(0.92,1)" font-size="8.4" text-anchor="middle" fill="#333333">1</text>
<text transform="translate(243.02,573.60) scale(0.92,1)" font-size="8.4" text-anchor="middle" fill="#333333">0</text>
<path d="M64.00,430.50H66.00V432.00H68.00V433.50H70.00V435.00H71.00V436.00H75.00V436.50H78.00V437.00H86.00V440.00H88.00V442.00H92.00V442.50H100.00V443.00H105.00V444.00H108.00V446.00H115.00V447.00H125.00V448.50H128.00V450.00H133.00V451.00H140.00V452.50H145.00V454.00H150.00V455.00H155.00V456.50H165.00V457.70H175.00V458.50H185.00V460.00H190.00V461.50H198.00V462.50H203.00V464.00H207.50V469.50H227.80" fill="none" stroke="#c5112f" stroke-width="1.4" stroke-linejoin="miter"/>
<path d="M64.00,430.50H66.00V432.00H68.00V433.50H70.00V435.00H71.00V436.00H76.00V436.50H82.00V437.50H86.00V439.00H88.00V441.50H95.00V442.50H105.00V443.50H108.00V444.50H110.00V445.00H126.00V446.50H135.00V447.00H140.00V448.00H150.00V449.50H156.00V451.50H180.00V454.00H190.00V459.50H196.00V460.50H229.50" fill="none" stroke="#1b4370" stroke-width="1.4" stroke-linejoin="miter"/>
<path d="M68.50,430.30V436.70M91.50,438.80V445.20M103.50,439.80V446.20M116.50,443.80V450.20M134.50,447.80V454.20M138.50,447.80V454.20M146.50,450.80V457.20M150.50,451.80V458.20M152.50,451.80V458.20M156.50,453.30V459.70M158.50,453.30V459.70M160.50,453.30V459.70M164.50,453.30V459.70M166.50,454.50V460.90M170.50,454.50V460.90M172.50,454.50V460.90M176.50,455.30V461.70M178.50,455.30V461.70M182.50,455.30V461.70M184.50,456.80V463.20M188.50,456.80V463.20M190.50,458.30V464.70M194.50,458.30V464.70M196.50,458.30V464.70M200.50,459.30V465.70M202.50,460.80V467.20M204.50,460.80V467.20M211.50,466.30V472.70M214.50,466.30V472.70M218.50,466.30V472.70M220.50,466.30V472.70M224.50,466.30V472.70M225.50,466.30V472.70" fill="none" stroke="#c5112f" stroke-width="1.0"/>
<path d="M68.50,430.30V436.70M108.50,441.30V447.70M116.50,441.80V448.20M128.50,443.30V449.70M138.50,443.80V450.20M142.50,444.80V451.20M148.50,444.80V451.20M150.50,446.30V452.70M152.50,446.30V452.70M154.50,446.30V452.70M156.50,448.30V454.70M160.50,448.30V454.70M162.50,448.30V454.70M164.50,448.30V454.70M166.50,448.30V454.70M170.50,448.30V454.70M172.50,448.30V454.70M174.50,448.30V454.70M178.50,448.30V454.70M180.50,450.80V457.20M184.50,450.80V457.20M186.50,450.80V457.20M188.50,450.80V457.20M198.50,457.30V463.70M208.50,457.30V463.70M216.50,457.30V463.70M218.50,457.30V463.70M226.50,457.30V463.70" fill="none" stroke="#1b4370" stroke-width="1.0"/>
<text transform="translate(268.00,406.20)" font-size="12.0" text-anchor="start" fill="#000" font-weight="bold">F</text>
<text transform="translate(338.20,418.80) scale(0.914,1)" font-size="8.4" text-anchor="start" fill="#333333">LD chemotherapy</text>
<line x1="408.20" y1="416.10" x2="420.80" y2="416.10" stroke="#c5112f" stroke-width="1.1"/>
<line x1="414.50" y1="413.50" x2="414.50" y2="418.90" stroke="#c5112f" stroke-width="1.0"/>
<text transform="translate(424.20,418.80) scale(0.89,1)" font-size="8.4" text-anchor="start" fill="#333333">Flu/Cy</text>
<line x1="451.80" y1="416.10" x2="464.40" y2="416.10" stroke="#1b4370" stroke-width="1.1"/>
<line x1="458.10" y1="413.50" x2="458.10" y2="418.90" stroke="#1b4370" stroke-width="1.0"/>
<text transform="translate(468.00,418.80) scale(0.93,1)" font-size="8.4" text-anchor="start" fill="#333333">Others</text>
<text transform="translate(287.70,468.00) rotate(-90) scale(0.835,1)" font-size="9.0" text-anchor="middle" fill="#333333">PFS probability</text>
<text transform="translate(309.60,509.10) scale(0.95,1)" font-size="8.2" text-anchor="end" fill="#333333">0.00</text>
<line x1="312.30" y1="506.50" x2="315.50" y2="506.50" stroke="#1a1a1a" stroke-width="1.0"/>
<text transform="translate(309.60,490.15) scale(0.95,1)" font-size="8.2" text-anchor="end" fill="#333333">0.25</text>
<line x1="312.30" y1="487.55" x2="315.50" y2="487.55" stroke="#1a1a1a" stroke-width="1.0"/>
<text transform="translate(309.60,471.20) scale(0.95,1)" font-size="8.2" text-anchor="end" fill="#333333">0.50</text>
<line x1="312.30" y1="468.60" x2="315.50" y2="468.60" stroke="#1a1a1a" stroke-width="1.0"/>
<text transform="translate(309.60,452.25) scale(0.95,1)" font-size="8.2" text-anchor="end" fill="#333333">0.75</text>
<line x1="312.30" y1="449.65" x2="315.50" y2="449.65" stroke="#1a1a1a" stroke-width="1.0"/>
<text transform="translate(309.60,433.30) scale(0.95,1)" font-size="8.2" text-anchor="end" fill="#333333">1.00</text>
<line x1="312.30" y1="430.70" x2="315.50" y2="430.70" stroke="#1a1a1a" stroke-width="1.0"/>
<line x1="315.50" y1="426.70" x2="315.50" y2="511.20" stroke="#1a1a1a" stroke-width="1.15"/>
<line x1="315.00" y1="510.70" x2="513.20" y2="510.70" stroke="#1a1a1a" stroke-width="1.15"/>
<line x1="324.50" y1="511.20" x2="324.50" y2="513.70" stroke="#1a1a1a" stroke-width="1.0"/>
<text transform="translate(324.50,523.80) scale(0.93,1)" font-size="8.4" text-anchor="middle" fill="#333333">0</text>
<line x1="346.94" y1="511.20" x2="346.94" y2="513.70" stroke="#1a1a1a" stroke-width="1.0"/>
<text transform="translate(346.94,523.80) scale(0.93,1)" font-size="8.4" text-anchor="middle" fill="#333333">3</text>
<line x1="369.38" y1="511.20" x2="369.38" y2="513.70" stroke="#1a1a1a" stroke-width="1.0"/>
<text transform="translate(369.38,523.80) scale(0.93,1)" font-size="8.4" text-anchor="middle" fill="#333333">6</text>
<line x1="391.82" y1="511.20" x2="391.82" y2="513.70" stroke="#1a1a1a" stroke-width="1.0"/>
<text transform="translate(391.82,523.80) scale(0.93,1)" font-size="8.4" text-anchor="middle" fill="#333333">9</text>
<line x1="414.26" y1="511.20" x2="414.26" y2="513.70" stroke="#1a1a1a" stroke-width="1.0"/>
<text transform="translate(414.26,523.80) scale(0.93,1)" font-size="8.4" text-anchor="middle" fill="#333333">12</text>
<line x1="436.70" y1="511.20" x2="436.70" y2="513.70" stroke="#1a1a1a" stroke-width="1.0"/>
<text transform="translate(436.70,523.80) scale(0.93,1)" font-size="8.4" text-anchor="middle" fill="#333333">15</text>
<line x1="459.14" y1="511.20" x2="459.14" y2="513.70" stroke="#1a1a1a" stroke-width="1.0"/>
<text transform="translate(459.14,523.80) scale(0.93,1)" font-size="8.4" text-anchor="middle" fill="#333333">18</text>
<line x1="481.58" y1="511.20" x2="481.58" y2="513.70" stroke="#1a1a1a" stroke-width="1.0"/>
<text transform="translate(481.58,523.80) scale(0.93,1)" font-size="8.4" text-anchor="middle" fill="#333333">21</text>
<line x1="504.02" y1="511.20" x2="504.02" y2="513.70" stroke="#1a1a1a" stroke-width="1.0"/>
<text transform="translate(504.02,523.80) scale(0.93,1)" font-size="8.4" text-anchor="middle" fill="#333333">24</text>
<text transform="translate(414.20,537.00) scale(0.785,1)" font-size="9.9" text-anchor="middle" fill="#333333">Time (in months)</text>
<text transform="translate(331.80,494.90) scale(0.93,1)" font-size="8.3" fill="#333333"><tspan font-style="italic">P</tspan> = .42</text>
<text transform="translate(315.50,549.20) scale(1.02,1)" font-size="8.2" text-anchor="start" fill="#333333">Number at risk</text>
<line x1="296.00" y1="558.60" x2="306.80" y2="558.60" stroke="#c5112f" stroke-width="1.1"/>
<line x1="296.00" y1="570.90" x2="306.80" y2="570.90" stroke="#1b4370" stroke-width="1.1"/>
<text transform="translate(324.50,561.30) scale(0.92,1)" font-size="8.4" text-anchor="middle" fill="#333333">191</text>
<text transform="translate(346.94,561.30) scale(0.92,1)" font-size="8.4" text-anchor="middle" fill="#333333">169</text>
<text transform="translate(369.38,561.30) scale(0.92,1)" font-size="8.4" text-anchor="middle" fill="#333333">151</text>
<text transform="translate(391.82,561.30) scale(0.92,1)" font-size="8.4" text-anchor="middle" fill="#333333">138</text>
<text transform="translate(414.26,561.30) scale(0.92,1)" font-size="8.4" text-anchor="middle" fill="#333333">109</text>
<text transform="translate(436.70,561.30) scale(0.92,1)" font-size="8.4" text-anchor="middle" fill="#333333">60</text>
<text transform="translate(459.14,561.30) scale(0.92,1)" font-size="8.4" text-anchor="middle" fill="#333333">23</text>
<text transform="translate(481.58,561.30) scale(0.92,1)" font-size="8.4" text-anchor="middle" fill="#333333">4</text>
<text transform="translate(504.02,561.30) scale(0.92,1)" font-size="8.4" text-anchor="middle" fill="#333333">0</text>
<text transform="translate(324.50,573.60) scale(0.92,1)" font-size="8.4" text-anchor="middle" fill="#333333">44</text>
<text transform="translate(346.94,573.60) scale(0.92,1)" font-size="8.4" text-anchor="middle" fill="#333333">39</text>
<text transform="translate(369.38,573.60) scale(0.92,1)" font-size="8.4" text-anchor="middle" fill="#333333">34</text>
<text transform="translate(391.82,573.60) scale(0.92,1)" font-size="8.4" text-anchor="middle" fill="#333333">31</text>
<text transform="translate(414.26,573.60) scale(0.92,1)" font-size="8.4" text-anchor="middle" fill="#333333">24</text>
<text transform="translate(436.70,573.60) scale(0.92,1)" font-size="8.4" text-anchor="middle" fill="#333333">7</text>
<text transform="translate(459.14,573.60) scale(0.92,1)" font-size="8.4" text-anchor="middle" fill="#333333">2</text>
<text transform="translate(481.58,573.60) scale(0.92,1)" font-size="8.4" text-anchor="middle" fill="#333333">0</text>
<text transform="translate(504.02,573.60) scale(0.92,1)" font-size="8.4" text-anchor="middle" fill="#333333">0</text>
<path d="M325.00,430.50H327.00V432.00H329.00V433.50H331.00V435.00H333.00V436.50H336.00V437.00H342.00V437.50H346.00V439.50H348.00V441.00H351.00V442.00H352.00V442.80H366.00V443.50H368.00V445.00H372.00V446.50H389.00V447.00H392.00V448.50H395.00V449.50H400.00V450.00H402.00V451.00H405.00V452.00H410.00V453.00H415.00V454.00H420.00V455.50H430.00V457.00H440.00V458.50H450.00V461.00H468.00V464.00H490.50" fill="none" stroke="#c5112f" stroke-width="1.4" stroke-linejoin="miter"/>
<path d="M325.00,430.50H327.00V432.00H329.00V433.50H331.00V435.00H333.00V436.50H336.00V437.20H345.00V438.00H346.00V439.50H348.00V441.00H352.00V444.00H366.00V444.50H368.00V446.00H375.00V449.50H385.00V450.00H390.00V451.50H401.00V452.50H410.00V454.00H415.00V456.00H420.00V458.00H421.00V462.00H455.50V477.00H470.50" fill="none" stroke="#1b4370" stroke-width="1.4" stroke-linejoin="miter"/>
<path d="M330.50,431.80V438.20M352.50,439.60V446.00M364.50,439.60V446.00M378.50,443.30V449.70M389.50,443.80V450.20M400.50,446.80V453.20M404.50,447.80V454.20M406.50,448.80V455.20M410.50,449.80V456.20M412.50,449.80V456.20M416.50,450.80V457.20M418.50,450.80V457.20M422.50,452.30V458.70M424.50,452.30V458.70M428.50,452.30V458.70M430.50,453.80V460.20M434.50,453.80V460.20M436.50,453.80V460.20M440.50,455.30V461.70M442.50,455.30V461.70M446.50,455.30V461.70M448.50,455.30V461.70M452.50,457.80V464.20M454.50,457.80V464.20M458.50,457.80V464.20M460.50,457.80V464.20M462.50,457.80V464.20M466.50,457.80V464.20M470.50,460.80V467.20M472.50,460.80V467.20M474.50,460.80V467.20M476.50,460.80V467.20M478.50,460.80V467.20M480.50,460.80V467.20M482.50,460.80V467.20M484.50,460.80V467.20M486.50,460.80V467.20" fill="none" stroke="#c5112f" stroke-width="1.0"/>
<path d="M391.50,448.30V454.70M400.50,448.30V454.70M421.50,458.80V465.20M424.50,458.80V465.20M428.50,458.80V465.20M430.50,458.80V465.20M432.50,458.80V465.20M436.50,458.80V465.20M448.50,458.80V465.20M460.50,473.80V480.20M467.50,473.80V480.20" fill="none" stroke="#1b4370" stroke-width="1.0"/>
<path d="M0.5,582V0.5H520" fill="none" stroke="#585858" stroke-width="1"/>
<path d="M519.5,0V581.5H0" fill="none" stroke="#454545" stroke-width="1"/>
</svg>
</body></html>
